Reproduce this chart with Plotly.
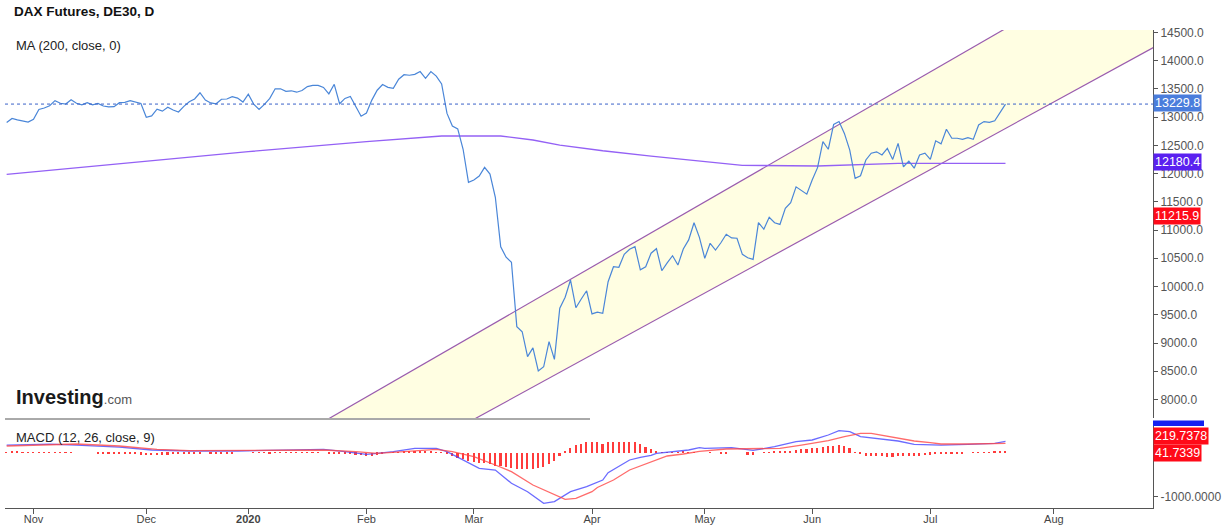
import pandas as pd
import plotly.graph_objects as go

# ---------------- data ----------------
holidays = ["2019-12-24", "2019-12-25", "2019-12-26", "2020-01-01", "2020-04-10", "2020-05-01"]
dates = [d.strftime("%Y-%m-%d") for d in pd.bdate_range("2019-10-25", "2020-07-21")
         if d.strftime("%Y-%m-%d") not in holidays]

close = [
    12905, 12975, 12950, 12935, 12910,
    12960, 13135, 13160, 13200, 13290, 13245, 13230, 13305, 13245, 13215,
    13255, 13215, 13240, 13195, 13180, 13185, 13255, 13260, 13290, 13260,
    13240, 12995, 13020, 13140, 13105, 13175, 13125, 13090, 13190, 13270,
    13320, 13430, 13300, 13250, 13235, 13315, 13320, 13360, 13335, 13265,
    13405, 13230, 13135, 13225, 13330, 13500, 13500, 13455, 13465, 13440,
    13470, 13540, 13560, 13560, 13525, 13410, 13580, 13235, 13330, 13365,
    13200, 13015, 13070, 13300, 13475, 13575, 13525, 13510, 13670, 13750,
    13740, 13755, 13805, 13685, 13805, 13725, 13585, 13065, 12840, 12790,
    12430, 11845, 11885, 11955, 12110, 11990, 11580, 10705, 10520, 10430,
    9290, 9200, 8760, 8915, 8505, 8580, 9025, 8710, 9615, 9810,
    10115, 9625, 9780, 9925, 9515, 9545, 9525, 10085, 10350, 10340,
    10570, 10660, 10705, 10295, 10350, 10590, 10670, 10280, 10420, 10545,
    10380, 10665, 10825, 11130, 10870, 10500, 10765, 10645, 10775, 10925,
    10860, 10855, 10570, 10510, 10480, 11130, 11015, 11225, 11130, 11100,
    11385, 11485, 11765, 11695, 11635, 11885, 12105, 12565, 12430, 12870,
    12920, 12710, 12415, 11915, 11960, 12240, 12360, 12385, 12330, 12445,
    12250, 12535, 12120, 12220, 12095, 12330, 12360, 12250, 12580, 12525,
    12785, 12625, 12625, 12605, 12635, 12605, 12860, 12920, 12905, 12935,
    13095, 13229.8,
]

ma_dates = ["2019-10-25", "2019-12-02", "2020-01-02", "2020-02-03", "2020-02-21", "2020-03-09",
            "2020-03-17", "2020-03-24", "2020-04-03", "2020-04-17", "2020-04-30", "2020-05-13",
            "2020-06-02", "2020-06-23", "2020-07-21"]
ma_values = [11987, 12218, 12388, 12564, 12665, 12665, 12594, 12505, 12404, 12310, 12227,
             12146, 12134, 12181, 12180.4]

macd_dates = ["2019-10-25", "2019-11-06", "2019-11-13", "2019-11-25", "2019-12-03", "2019-12-12",
              "2019-12-30", "2020-01-09", "2020-01-22", "2020-01-28", "2020-02-03", "2020-02-05",
              "2020-02-10", "2020-02-14", "2020-02-20", "2020-02-24", "2020-02-27", "2020-03-03",
              "2020-03-06", "2020-03-10", "2020-03-11", "2020-03-16", "2020-03-19", "2020-03-23",
              "2020-03-26", "2020-03-31", "2020-04-03", "2020-04-06", "2020-04-08", "2020-04-13",
              "2020-04-15", "2020-04-17", "2020-04-20", "2020-04-22", "2020-04-24", "2020-04-28",
              "2020-04-30", "2020-05-04", "2020-05-11", "2020-05-15", "2020-05-21", "2020-05-27",
              "2020-06-01", "2020-06-04", "2020-06-08", "2020-06-10", "2020-06-12", "2020-06-18",
              "2020-06-23", "2020-06-26", "2020-07-01", "2020-07-03", "2020-07-10", "2020-07-17",
              "2020-07-21"]
macd_values = [180, 200, 180, 130, 66, 43, 43, 66, 82, 27, -32, -9, 27, 105, 105, 27, -162, -352,
               -391, -603, -694, -886, -1151, -1114, -886, -772, -620, -452, -315, -162, -100, -55,
               -9, 14, 27, 66, 119, 105, 119, 59, 142, 256, 295, 409, 507, 484, 370, 317, 272, 196,
               180, 180, 196, 219, 261.4711]

signal_dates = ["2019-10-25", "2019-11-13", "2019-11-25", "2019-12-04", "2019-12-12", "2020-01-09",
                "2020-01-22", "2020-01-30", "2020-02-05", "2020-02-12", "2020-02-20", "2020-02-25",
                "2020-03-02", "2020-03-06", "2020-03-11", "2020-03-17", "2020-03-23", "2020-03-25",
                "2020-03-27", "2020-04-01", "2020-04-02", "2020-04-07", "2020-04-13", "2020-04-17",
                "2020-04-22", "2020-04-27", "2020-04-30", "2020-05-08", "2020-05-15", "2020-05-22",
                "2020-05-28", "2020-06-04", "2020-06-09", "2020-06-12", "2020-06-16", "2020-06-22",
                "2020-06-26", "2020-07-01", "2020-07-03", "2020-07-10", "2020-07-17", "2020-07-21"]
signal_values = [158, 203, 158, 82, 50, 50, 66, 27, -9, 27, 82, 27, -87, -276, -429, -733, -962,
                 -1060, -1037, -886, -790, -619, -391, -201, -71, -25, 37, 89, 105, 105, 180, 279,
                 370, 447, 447, 356, 272, 233, 203, 203, 219, 219.7378]

hist = [
    20, 25, 25, 20, 20,
    15, 15, 15, 10, 10, 10, 5, 5, 0, 0,
    0, 0, -15, -20, -20, -25, -25, -30, -30, -35,
    -40, -50, -55, -50, -45, -40, -35, -30, -20, -15,
    -10, -5, 0, -5, -10, -10, -5, -5, 0, 0,
    0, 5, 5, 10, -20, 10, 10, 5, 5, 5,
    10, 10, 10, 5, 0, -5, -10, -15, -25, -30,
    -40, -55, -70, -60, -40, -20, 0, 10, 20, 25,
    30, 30, 35, 30, 25, 20, 10, -30, -70, -110,
    -150, -190, -210, -230, -240, -260, -290, -310, -330, -350,
    -360, -370, -370, -365, -350, -320, -260, -180, -60, 40,
    110, 170, 210, 240, 250, 240, 200, 250, 260, 260,
    255, 250, 250, 200, 130, 90, 45, 20, 10, 10,
    20, 30, 15, 10, 0, 0, 5, 0, -10, -20,
    0, 0, 0, -40, -45, 0, 15, 20, 25, 30,
    35, 50, 60, 80, 100, 110, 120, 140, 150, 165,
    170, 150, 110, 20, -30, -60, -70, -80, -80, -85,
    -85, -80, -80, -75, -70, -60, -55, -45, -35, -20,
    -10, -10, -5, -5, 0, 5, 10, 15, 20, 25, 35, 41.7339,
]

channel_upper_dates = ["2020-01-02", "2020-08-17"]
channel_upper = [6840, 15608]
channel_lower_dates = ["2020-02-13", "2020-09-07"]
channel_lower = [7025, 14775]

last_close = 13229.8
last_ma = 12180.4
other_level = 11215.9
last_macd = 261.4711
last_signal = 219.7378
last_hist = 41.7339

month_ticks = ["2019-11-01", "2019-12-02", "2020-01-02", "2020-02-03", "2020-03-02",
               "2020-04-01", "2020-05-04", "2020-06-01", "2020-07-01", "2020-08-03"]
month_labels = ["Nov", "Dec", "<b>2020</b>", "Feb", "Mar", "Apr", "May", "Jun", "Jul", "Aug"]
price_ticks = [8000, 8500, 9000, 9500, 10000, 10500, 11000, 11500, 12000, 12500,
               13000, 13500, 14000, 14500]

# ---------------- figure ----------------
W, H = 1223, 527
ML, MR, MT, MB = 5, 70, 30, 19
PW, PH = W - ML - MR, H - MT - MB


def px_x(x):
    return (x - ML) / PW


def px_y(y):
    return (H - MB - y) / PH


FONT = "Liberation Sans, Arial, sans-serif"

fig = go.Figure()

# channel fill
fig.add_trace(go.Scatter(
    x=channel_upper_dates + channel_lower_dates[::-1],
    y=channel_upper + channel_lower[::-1],
    fill="toself", fillcolor="#fffee2", mode="lines", line=dict(width=0),
    hoverinfo="skip", xaxis="x", yaxis="y"))
fig.add_trace(go.Scatter(x=channel_upper_dates, y=channel_upper, mode="lines",
                         line=dict(color="#9a5cae", width=1.2), xaxis="x", yaxis="y"))
fig.add_trace(go.Scatter(x=channel_lower_dates, y=channel_lower, mode="lines",
                         line=dict(color="#9a5cae", width=1.2), xaxis="x", yaxis="y"))
# MA
fig.add_trace(go.Scatter(x=ma_dates, y=ma_values, mode="lines",
                         line=dict(color="#9461f5", width=1.3), xaxis="x", yaxis="y"))
# price
fig.add_trace(go.Scatter(x=dates, y=close, mode="lines",
                         line=dict(color="#4a86d8", width=1.2), xaxis="x", yaxis="y"))

# MACD pane
fig.add_trace(go.Bar(x=dates, y=hist, marker=dict(color="#ff3b3b", line=dict(width=0)),
                     width=0.3 * 86400000, xaxis="x2", yaxis="y2"))
fig.add_trace(go.Scatter(x=macd_dates, y=macd_values, mode="lines",
                         line=dict(color="rgba(70,70,255,0.8)", width=1.3), xaxis="x2", yaxis="y2"))
fig.add_trace(go.Scatter(x=signal_dates, y=signal_values, mode="lines",
                         line=dict(color="rgba(255,70,70,0.8)", width=1.3), xaxis="x2", yaxis="y2"))

rb = [dict(bounds=["sat", "mon"]), dict(values=holidays)]
xrange = ["2019-10-24 16:35", "2020-08-27 11:15"]

fig.update_layout(
    width=W, height=H,
    margin=dict(l=ML, r=MR, t=MT, b=MB, autoexpand=False),
    paper_bgcolor="white", plot_bgcolor="white",
    showlegend=False, bargap=0,
    font=dict(family=FONT, size=12, color="#555"),
    xaxis=dict(domain=[0, 1], anchor="y", type="date", range=xrange, rangebreaks=rb,
               automargin=False,
               showticklabels=False, ticks="", showgrid=False, zeroline=False, showline=False),
    yaxis=dict(domain=[px_y(418), 1], anchor="x", side="right", range=[7673, 14541],
               automargin=False,
               tickvals=price_ticks, tickformat=".1f", ticks="outside", ticklen=4,
               tickcolor="#555", showline=True, linecolor="#555", linewidth=1,
               showgrid=False, zeroline=False, tickfont=dict(size=12, color="#555")),
    xaxis2=dict(domain=[0, 1], anchor="y2", type="date", matches="x", range=xrange,
                automargin=False, ticklabelstandoff=-4,
                rangebreaks=rb, tickvals=month_ticks, ticktext=month_labels,
                ticks="outside", ticklen=5, tickcolor="#555", showline=True,
                linecolor="#555", linewidth=1, showgrid=False, zeroline=False,
                tickfont=dict(size=11, color="#444")),
    yaxis2=dict(domain=[0, px_y(421)], anchor="x2", side="right", range=[-1259, 729],
                automargin=False,
                tickvals=[-1000], ticktext=["-1000.0000"], ticks="outside", ticklen=4,
                tickcolor="#555", showline=True, linecolor="#555", linewidth=1,
                showgrid=False, zeroline=False, tickfont=dict(size=12, color="#555")),
)

shapes = [
    dict(type="line", xref="paper", yref="y", x0=0, x1=1, y0=last_close, y1=last_close,
         line=dict(color="#3a62c9", width=1, dash="dot")),
    dict(type="line", xref="paper", yref="paper", x0=0, x1=px_x(590), y0=px_y(419),
         y1=px_y(419), line=dict(color="#555", width=1)),
    dict(type="rect", xref="paper", yref="paper", x0=1.0, x1=px_x(1204), y0=px_y(426),
         y1=px_y(420.5), fillcolor="#1420f0", line=dict(width=0)),
]
fig.update_layout(shapes=shapes)

ann = []


def label(text, ypx, bg):
    ann.append(dict(text=text, xref="paper", yref="paper", x=1.0, y=px_y(ypx),
                    xanchor="left", yanchor="middle", showarrow=False, bgcolor=bg,
                    borderpad=1, font=dict(family=FONT, size=12.5, color="white")))


label(f"{last_close:.1f}", 102.5, "#4a7ddc")
label(f"{last_ma:.1f}", 162, "#5a21f0")
label(f"{other_level:.1f}", 216, "#ff0a18")
label(f"{last_signal:.4f}", 436, "#ff0a18")
label(f"{last_hist:.4f}", 453, "#ff0a18")

ann.append(dict(text="<b>DAX Futures, DE30, D</b>", xref="paper", yref="paper",
                x=px_x(12), y=px_y(12), xanchor="left", yanchor="middle", showarrow=False,
                font=dict(family=FONT, size=13.5, color="#111")))
ann.append(dict(text="MA (200, close, 0)", xref="paper", yref="paper",
                x=px_x(14), y=px_y(45), xanchor="left", yanchor="middle", showarrow=False,
                font=dict(family=FONT, size=13, color="#222")))
ann.append(dict(text="MACD (12, 26, close, 9)", xref="paper", yref="paper",
                x=px_x(14), y=px_y(437), xanchor="left", yanchor="middle", showarrow=False,
                font=dict(family=FONT, size=13, color="#222")))
ann.append(dict(text="<b>Investing</b><span style='font-size:13px;color:#555'>.com</span>",
                xref="paper", yref="paper", x=px_x(14), y=px_y(397), xanchor="left",
                yanchor="middle", showarrow=False,
                font=dict(family=FONT, size=20, color="#1a1a1a")))
fig.update_layout(annotations=ann)

fig.write_html("out.html", config={"displayModeBar": False},
               post_script="document.body.style.margin='0';document.body.style.overflow='hidden';")
